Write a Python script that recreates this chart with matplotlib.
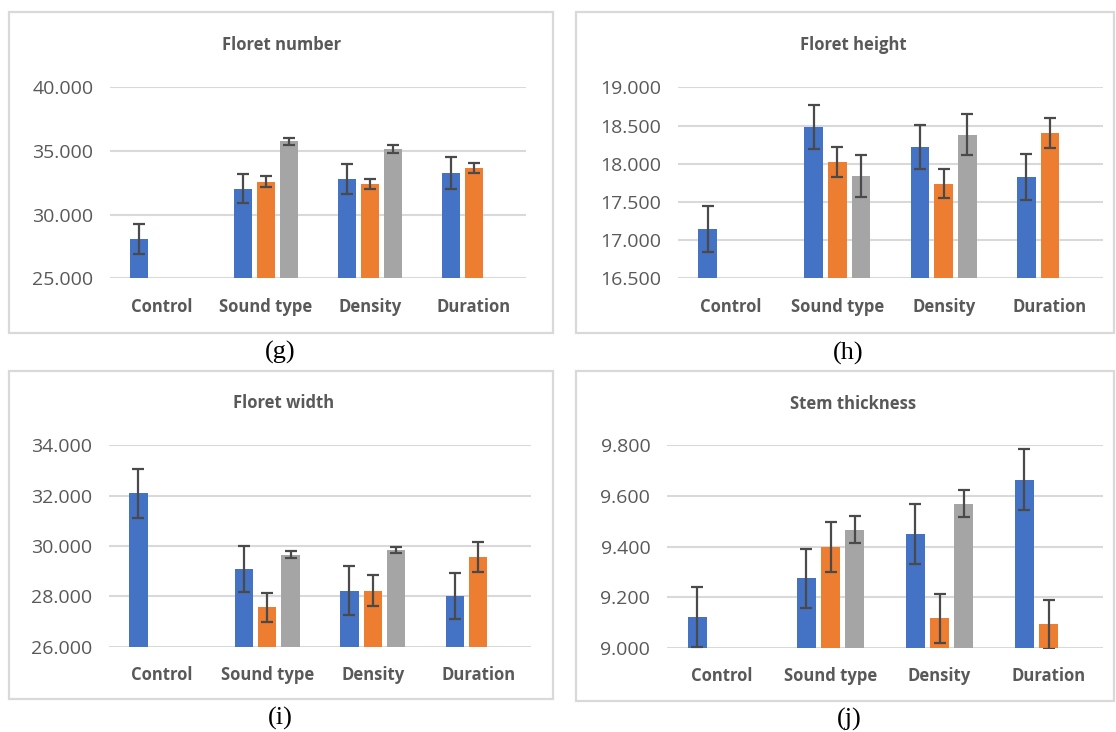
import numpy as np
import matplotlib.pyplot as plt
from matplotlib.patches import Rectangle

nan = np.nan
categories = ["Control", "Sound type", "Density", "Duration"]
series_colors = ["#4472C4", "#ED7D31", "#A5A5A5"]

# floret number
number_blue = [28.1, 32.05, 32.8, 33.3]
number_orange = [nan, 32.6, 32.4, 33.65]
number_gray = [nan, 35.75, 35.15, nan]
number_blue_err = [1.2, 1.15, 1.15, 1.25]
number_orange_err = [nan, 0.4, 0.4, 0.4]
number_gray_err = [nan, 0.3, 0.3, nan]

# floret height
height_blue = [17.14, 18.48, 18.22, 17.83]
height_orange = [nan, 18.02, 17.74, 18.40]
height_gray = [nan, 17.84, 18.38, nan]
height_blue_err = [0.30, 0.29, 0.29, 0.30]
height_orange_err = [nan, 0.20, 0.19, 0.20]
height_gray_err = [nan, 0.28, 0.27, nan]

# floret width
width_blue = [32.09, 29.10, 28.23, 28.0]
width_orange = [nan, 27.56, 28.23, 29.56]
width_gray = [nan, 29.66, 29.84, nan]
width_blue_err = [0.96, 0.91, 0.98, 0.91]
width_orange_err = [nan, 0.58, 0.63, 0.60]
width_gray_err = [nan, 0.13, 0.12, nan]

# stem thickness
stem_blue = [9.122, 9.275, 9.450, 9.664]
stem_orange = [nan, 9.399, 9.117, 9.093]
stem_gray = [nan, 9.466, 9.570, nan]
stem_blue_err = [0.12, 0.117, 0.117, 0.12]
stem_orange_err = [nan, 0.10, 0.097, 0.097]
stem_gray_err = [nan, 0.053, 0.054, nan]

W, H = 1116, 732
fig = plt.figure(figsize=(W / 100, H / 100), dpi=100)


def px_rect(x0, y0, x1, y1):
    return [x0 / W, 1 - y1 / H, (x1 - x0) / W, (y1 - y0) / H]


def panel(axpx, boxpx, title, title_xy, label, label_xy, series, errs, ylim, step, fmt):
    bx = px_rect(*boxpx)
    fig.patches.append(Rectangle((bx[0], bx[1]), bx[2], bx[3], transform=fig.transFigure,
                                 fill=False, edgecolor="#D9D9D9", lw=1.6, zorder=0))
    ax = fig.add_axes(px_rect(*axpx))
    x = np.arange(len(categories))
    for i, (vals, ee) in enumerate(zip(series, errs)):
        vals = np.array(vals, float)
        ee = np.array(ee, float)
        ok = ~np.isnan(vals)
        xs = x[ok] + (i - 1) * 0.222
        ax.bar(xs, vals[ok] - ylim[0], bottom=ylim[0], width=0.175,
               color=series_colors[i], zorder=3)
        ax.errorbar(xs, vals[ok], yerr=ee[ok], fmt="none", ecolor="#4a4a4a",
                    elinewidth=1.6, capsize=4.3, capthick=1.6, zorder=4)
    ax.set_xlim(-0.5, 3.5)
    ax.set_ylim(*ylim)
    ticks = np.arange(ylim[0], ylim[1] + step / 2, step)
    ax.set_yticks(ticks)
    ax.set_yticklabels([fmt % t for t in ticks])
    ax.set_xticks(x)
    ax.set_xticklabels(categories, fontweight="bold")
    ax.grid(axis="y", color="#D9D9D9", lw=1.5, zorder=0)
    for s in ax.spines.values():
        s.set_visible(False)
    ax.tick_params(axis="y", length=0, pad=12, labelsize=14, labelcolor="#595959")
    ax.tick_params(axis="x", length=0, pad=14, labelsize=12, labelcolor="#595959")
    ax.set_facecolor("none")
    fig.text(title_xy[0] / W, 1 - title_xy[1] / H, title, ha="center", va="center",
             fontsize=12, fontweight="bold", color="#595959")
    fig.text(label_xy[0] / W, 1 - label_xy[1] / H, label, ha="center", va="center",
             fontsize=19, family="Liberation Serif", color="black")
    return ax


plt.rcParams["font.family"] = ["Open Sans", "DejaVu Sans"]

panel((110, 87.3, 526, 278.3), (9, 12.5, 553, 333), "Floret number", (282, 45),
      "(g)", (280, 352),
      [number_blue, number_orange, number_gray],
      [number_blue_err, number_orange_err, number_gray_err],
      (25, 40), 5, "%.3f")
panel((678, 87.3, 1103, 278.3), (576, 12.5, 1114, 333), "Floret height", (853, 45),
      "(h)", (848, 353),
      [height_blue, height_orange, height_gray],
      [height_blue_err, height_orange_err, height_gray_err],
      (16.5, 19.0), 0.5, "%.3f")
panel((109, 445.3, 531, 646.7), (9, 371, 553, 699), "Floret width", (284, 403),
      "(i)", (280, 718),
      [width_blue, width_orange, width_gray],
      [width_blue_err, width_orange_err, width_gray_err],
      (26, 34), 2, "%.3f")
panel((667, 445.3, 1103, 648), (576, 371, 1114, 701), "Stem thickness", (853, 404),
      "(j)", (849, 719),
      [stem_blue, stem_orange, stem_gray],
      [stem_blue_err, stem_orange_err, stem_gray_err],
      (9.0, 9.8), 0.2, "%.3f")

fig.savefig("out.png", dpi=100)
